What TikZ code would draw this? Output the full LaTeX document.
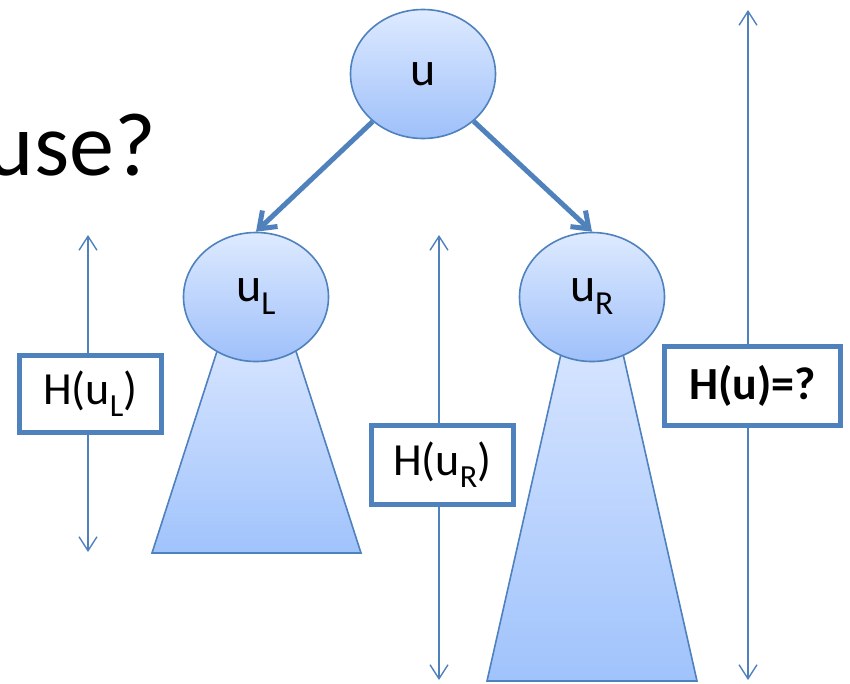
\documentclass[tikz,border=0pt]{standalone}
\usepackage{fontspec}
\setmainfont{Carlito}
\usetikzlibrary{shapes.geometric,arrows.meta}
\definecolor{edgeblue}{RGB}{79,129,189}
\definecolor{ftop}{RGB}{222,234,255}
\definecolor{fbot}{RGB}{158,192,250}
\definecolor{ttop}{RGB}{214,228,255}
\definecolor{tbot}{RGB}{160,195,252}
\tikzset{
  treenode/.style={ellipse, draw=edgeblue, line width=1.6pt, top color=ftop, bottom color=fbot,
    minimum width=145pt, minimum height=129pt, inner sep=0pt, font=\fontsize{48}{54}\selectfont},
  subtree/.style={draw=edgeblue, line width=1.6pt, top color=ttop, bottom color=tbot},
  childarrow/.style={draw=edgeblue, line width=5pt, -{Straight Barb[length=15pt,width=22pt]}},
  heightarrow/.style={draw=edgeblue, line width=1.4pt, {Straight Barb[length=14pt,width=18pt]}-{Straight Barb[length=14pt,width=18pt]}},
  hbox/.style={rectangle, draw=edgeblue, line width=5pt, fill=white, inner sep=0pt,
    font=\fontsize{46}{52}\selectfont}
}
\begin{document}
\begin{tikzpicture}[x=1pt,y=-1pt]
\useasboundingbox (0,0) rectangle (850,683);
% title fragment
\node[anchor=base east, inner sep=0pt, font=\fontsize{90}{100}\selectfont] (title) at (156,175) {use?};
% subtrees
\path[subtree] (219,345) -- (294,345) -- (361,553) -- (152,553) -- cycle;
\path[subtree] (563,345) -- (621,345) -- (697,681) -- (487,681) -- cycle;
% nodes
\node[treenode] (u) at (423,74) {u};
\node[treenode] (uL) at (256,297) {u\textsubscript{L}};
\node[treenode] (uR) at (592,297) {u\textsubscript{R}};
% child arrows
\draw[childarrow] (u) -- (uL.north);
\draw[childarrow] (u) -- (uR.north);
% height arrows
\coordinate (a1t) at (88,235);
\coordinate (a1b) at (88,552);
\coordinate (a2t) at (439,235);
\coordinate (a2b) at (439,680);
\coordinate (a3t) at (748,10);
\coordinate (a3b) at (748,680);
\draw[heightarrow] (a1t) -- (a1b);
\draw[heightarrow] (a2t) -- (a2b);
\draw[heightarrow] (a3t) -- (a3b);
% height boxes
\node[hbox, minimum width=142pt, minimum height=77pt] (hL) at (90.5,394) {H(u\textsubscript{L})};
\node[hbox, minimum width=142pt, minimum height=79pt] (hR) at (442.5,465) {H(u\textsubscript{R})};
\node[hbox, minimum width=176pt, minimum height=79pt, font=\fontsize{46}{52}\selectfont\bfseries] (hU) at (752.5,386) {H(u)=?};
\end{tikzpicture}
\end{document}
